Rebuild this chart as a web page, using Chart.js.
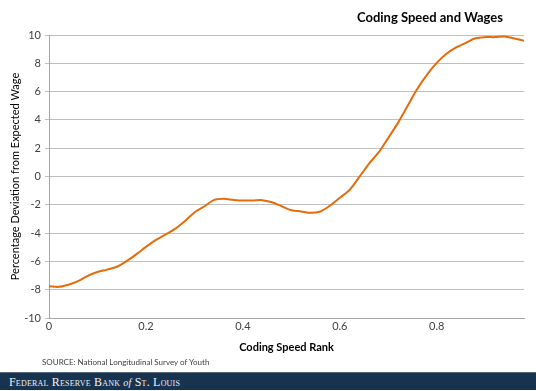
<!DOCTYPE html>
<html>
<head>
<meta charset="utf-8">
<script src="https://cdn.jsdelivr.net/npm/chart.js@4"></script>
<style>
  html, body { margin: 0; padding: 0; background: #fff; }
  #wrap { position: relative; width: 536px; height: 391px; overflow: hidden; }
  #plot { position: absolute; left: 0; top: 0; width: 536px; height: 372px; }
  #title { position: absolute; right: 33px; top: 9px; font: bold 13px Lato, sans-serif; color: #000; }
  #source { position: absolute; left: 42px; top: 357px; font: 8px Lato, sans-serif; color: #404040; }
  #footer { position: absolute; left: 0; top: 372px; width: 536px; height: 18px; background: #173350;
    border-top: 1px solid #56687c; box-sizing: border-box; }
  #footer span { position: absolute; left: 9px; top: 2px; font: 12px "Liberation Serif", serif;
    font-variant: small-caps; color: #eef1f4; letter-spacing: 0.2px; }
  #footer i { font-size: 10px; font-variant: normal; }
</style>
</head>
<body>
<div id="wrap">
  <div id="plot"><canvas id="myChart"></canvas></div>
  <div id="title">Coding Speed and Wages</div>
  <div id="source">SOURCE: National Longitudinal Survey of Youth</div>
  <div id="footer"><span>Federal Reserve Bank <i>of</i> St. Louis</span></div>
</div>
<script>
const rank = [0, 0.02, 0.04, 0.06, 0.08, 0.1, 0.12, 0.14, 0.16, 0.18,
  0.2, 0.22, 0.24, 0.26, 0.28, 0.3, 0.32, 0.34, 0.36, 0.38,
  0.4, 0.42, 0.44, 0.46, 0.48, 0.5, 0.52, 0.54, 0.56, 0.58,
  0.6, 0.62, 0.64, 0.66, 0.68, 0.7, 0.72, 0.74, 0.76, 0.78,
  0.8, 0.82, 0.84, 0.86, 0.88, 0.9, 0.92, 0.94, 0.96, 0.98];
const deviation = [-7.75, -7.8, -7.65, -7.4, -7.02, -6.75, -6.58, -6.38, -5.98, -5.5,
  -4.97, -4.5, -4.1, -3.7, -3.16, -2.54, -2.12, -1.67, -1.58, -1.65,
  -1.7, -1.7, -1.67, -1.82, -2.1, -2.38, -2.47, -2.57, -2.47, -2.05,
  -1.5, -0.95, -0.05, 0.9, 1.7, 2.73, 3.79, 5.0, 6.2, 7.2,
  8.03, 8.67, 9.12, 9.45, 9.77, 9.85, 9.85, 9.9, 9.75, 9.6];

const points = rank.map((x, i) => ({ x: x, y: deviation[i] }));

const config = {
  type: "line",
  data: {
    datasets: [
      {
        label: "Coding Speed and Wages",
        data: points,
        borderColor: "#e46c0a",
        borderWidth: 2,
        pointRadius: 0,
        tension: 0.3,
        fill: false,
      },
    ],
  },
  options: {
    responsive: false,
    animation: false,
    layout: { padding: { left: 0, right: 12, top: 35, bottom: 18 } },
    plugins: {
      legend: { display: false },
      tooltip: { enabled: false },
    },
    scales: {
      x: {
        type: "linear",
        min: 0,
        max: 0.98,
        afterFit: (scale) => { scale.height = 36; },
        ticks: {
          stepSize: 0.2,
          includeBounds: false,
          color: "#404040",
          font: { family: "Lato", size: 11 },
          padding: 2,
        },
        grid: { display: false, drawTicks: false },
        border: { color: "#a6a6a6", width: 1 },
        title: {
          display: true,
          text: "Coding Speed Rank",
          color: "#000",
          font: { family: "Lato", size: 11, weight: "bold" },
          padding: { top: 4, bottom: 0 },
        },
      },
      y: {
        min: -10,
        max: 10,
        afterFit: (scale) => { scale.width = 49; },
        ticks: {
          stepSize: 2,
          color: "#404040",
          font: { family: "Lato", size: 11 },
          padding: 4,
        },
        grid: { color: "#bfbfbf", tickLength: 4, lineWidth: 1 },
        border: { color: "#a6a6a6", width: 1 },
        title: {
          display: true,
          text: "Percentage Deviation from Expected Wage",
          color: "#000",
          font: { family: "Lato", size: 11 },
          padding: { top: 9, bottom: 0 },
        },
      },
    },
  },
};

const canvas = document.getElementById("myChart");
canvas.width = 536;
canvas.height = 372;
const myChart = new Chart(canvas, config);
</script>
</body>
</html>
